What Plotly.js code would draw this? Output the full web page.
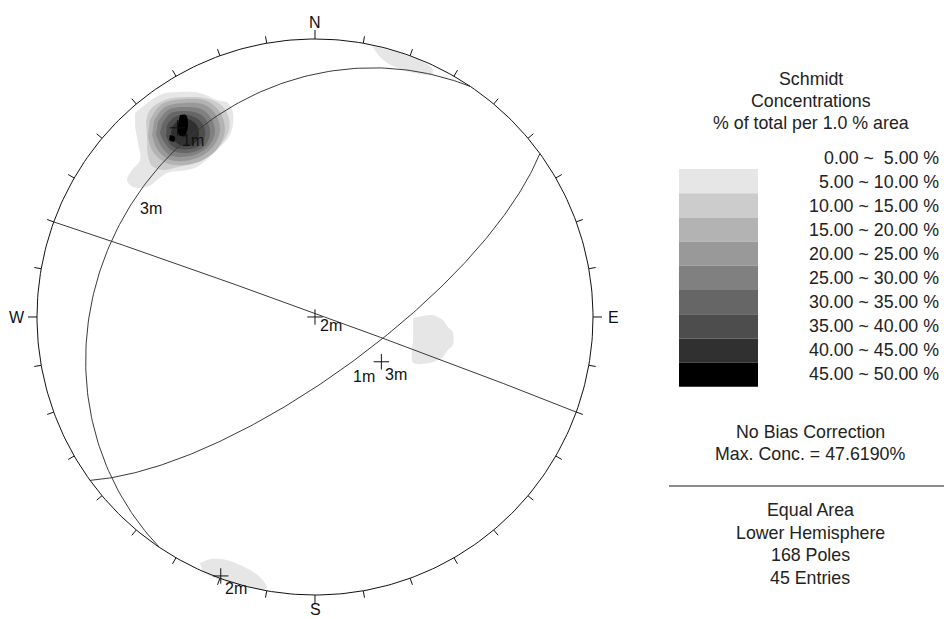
<!DOCTYPE html>
<html><head><meta charset="utf-8">
<script src="https://cdn.plot.ly/plotly-3.0.1.min.js"></script>
<style>html,body{margin:0;padding:0;background:#fff;}#chart{width:944px;height:619px;}</style>
</head><body><div id="chart"></div>
<script>
// ---- Mean set planes (dip direction / dip, degrees) ----
const setIds = ['1', '2', '3'];
const setDipDir = [144, 20, 304];
const setDip = [73, 89, 23.5];

// ---- Concentration legend ----
const levelLabels = ['0.00 ~  5.00 %', '5.00 ~ 10.00 %', '10.00 ~ 15.00 %', '15.00 ~ 20.00 %', '20.00 ~ 25.00 %',
  '25.00 ~ 30.00 %', '30.00 ~ 35.00 %', '35.00 ~ 40.00 %', '40.00 ~ 45.00 %', '45.00 ~ 50.00 %'];
const levelColors = ['#ffffff', '#e6e6e6', '#cccccc', '#b3b3b3', '#999999', '#808080', '#666666', '#4d4d4d', '#303030', '#000000'];
const headerLines = ['Schmidt', 'Concentrations', '% of total per 1.0 % area'];
const infoLines1 = ['No Bias Correction', 'Max. Conc. = 47.6190%'];
const infoLines2 = ['Equal Area', 'Lower Hemisphere', '168 Poles', '45 Entries'];
const compassLabels = ['N', 'E', 'S', 'W'];
const compassAz = [0, 90, 180, 270];

// ---- Contour outlines of the main pole cluster (net coords, level 1..9) ----
const clusterX = [
  [-0.647,-0.558,-0.496,-0.414,-0.353,-0.313,-0.295,-0.299,-0.317,-0.342,-0.378,-0.424,-0.460,-0.532,-0.568,-0.604,-0.655,-0.676,-0.658,-0.629,-0.637,-0.647],
  [-0.608,-0.594,-0.540,-0.468,-0.396,-0.342,-0.313,-0.309,-0.335,-0.378,-0.432,-0.493,-0.547,-0.586,-0.601,-0.604],
  [-0.594,-0.550,-0.468,-0.389,-0.342,-0.324,-0.349,-0.403,-0.468,-0.536,-0.583,-0.601],
  [-0.579,-0.540,-0.468,-0.396,-0.356,-0.342,-0.367,-0.414,-0.471,-0.529,-0.568,-0.586],
  [-0.565,-0.529,-0.464,-0.403,-0.371,-0.360,-0.385,-0.425,-0.475,-0.522,-0.554,-0.572],
  [-0.550,-0.518,-0.464,-0.414,-0.385,-0.378,-0.399,-0.435,-0.478,-0.518,-0.543,-0.558],
  [-0.532,-0.504,-0.460,-0.421,-0.399,-0.396,-0.417,-0.450,-0.486,-0.518,-0.536],
  [-0.514,-0.489,-0.457,-0.428,-0.417,-0.425,-0.453,-0.486,-0.511,-0.518],
  [-0.486,-0.464,-0.457,-0.460,-0.471,-0.489,-0.493,-0.489, null, -0.522,-0.504,-0.507,-0.525]
];
const clusterY = [
  [0.734,0.799,0.809,0.806,0.781,0.770,0.734,0.673,0.637,0.612,0.576,0.540,0.529,0.518,0.493,0.468,0.468,0.493,0.529,0.565,0.626,0.683],
  [0.701,0.745,0.781,0.791,0.788,0.766,0.727,0.673,0.626,0.583,0.554,0.540,0.529,0.543,0.583,0.644],
  [0.709,0.766,0.784,0.777,0.737,0.673,0.608,0.565,0.547,0.554,0.594,0.651],
  [0.705,0.755,0.770,0.763,0.727,0.669,0.612,0.576,0.561,0.568,0.604,0.655],
  [0.701,0.745,0.755,0.745,0.712,0.662,0.612,0.586,0.576,0.583,0.615,0.658],
  [0.694,0.734,0.741,0.730,0.698,0.655,0.612,0.594,0.590,0.601,0.630,0.662],
  [0.691,0.719,0.727,0.712,0.684,0.648,0.615,0.604,0.604,0.619,0.651],
  [0.684,0.709,0.712,0.694,0.666,0.633,0.615,0.619,0.640,0.662],
  [0.727,0.727,0.701,0.669,0.651,0.655,0.687,0.712, null, 0.655,0.648,0.630,0.637]
];
// ---- Small level-1 patches (net coords) ----
const patchTopX = [0.206,0.285,0.366,0.421,0.421,0.342,0.259,0.227];
const patchTopY = [0.975,0.955,0.928,0.896,0.871,0.881,0.914,0.942];
const patchEastX = [0.353,0.421,0.460,0.478,0.496,0.496,0.478,0.460,0.414,0.353,0.353];
const patchEastY = [-0.004,0.007,-0.011,-0.036,-0.054,-0.101,-0.119,-0.144,-0.165,-0.165,-0.083];
const patchSouthX = [-0.414,-0.378,-0.317,-0.270,-0.234,-0.198,-0.173,-0.187,-0.259,-0.317,-0.378,-0.406];
const patchSouthY = [-0.885,-0.871,-0.874,-0.892,-0.910,-0.935,-0.971,-0.982,-0.968,-0.953,-0.932,-0.910];

// ---- page geometry ----
const W = 944, H = 619, CX = 315, CY = 317, R = 278;
const XR = [-1.1, 1.1], YR = [-1.08, 1.1];
const D2R = Math.PI / 180;
const FONT = '"Liberation Sans", Arial, sans-serif';
const px2x = p => p / W;
const py2y = p => 1 - p / H;

function proj(trend, plunge) {
  const r = Math.SQRT2 * Math.sin((90 - plunge) / 2 * D2R);
  return [r * Math.sin(trend * D2R), r * Math.cos(trend * D2R)];
}
function greatCircle(dd, dip) {
  const s = (dd - 90) * D2R, d = dip * D2R, a = dd * D2R;
  const sv = [Math.sin(s), Math.cos(s), 0];
  const dv = [Math.cos(d) * Math.sin(a), Math.cos(d) * Math.cos(a), Math.sin(d)];
  const xs = [], ys = [];
  for (let k = 0; k <= 180; k++) {
    const f = k * D2R;
    const v = [0, 1, 2].map(i => Math.cos(f) * sv[i] + Math.sin(f) * dv[i]);
    const tr = Math.atan2(v[0], v[1]) / D2R;
    const pl = Math.asin(Math.min(1, Math.max(-1, v[2]))) / D2R;
    const p = proj(tr, pl);
    xs.push(p[0]); ys.push(p[1]);
  }
  return [xs, ys];
}

const traces = [];
// contour fills
const patches = [[patchTopX, patchTopY], [patchEastX, patchEastY], [patchSouthX, patchSouthY]];
patches.forEach(p => traces.push({
  type: 'scatter', mode: 'lines', x: p[0], y: p[1], fill: 'toself', fillcolor: levelColors[1],
  line: {width: 0, shape: 'spline', smoothing: 0.8, color: levelColors[1]}, hoverinfo: 'skip'
}));
clusterX.forEach((xs, i) => traces.push({
  type: 'scatter', mode: 'lines', x: xs, y: clusterY[i], fill: 'toself', fillcolor: levelColors[i + 1],
  line: {width: 0, shape: 'spline', smoothing: 1, color: levelColors[i + 1]}, hoverinfo: 'skip'
}));

// great circles
setIds.forEach((id, i) => {
  const g = greatCircle(setDipDir[i], setDip[i]);
  traces.push({type: 'scatter', mode: 'lines', x: g[0], y: g[1], line: {color: '#3a3a3a', width: 1}, hoverinfo: 'skip'});
});

// primitive circle
const cx = [], cy = [];
for (let a = 0; a <= 360; a++) { cx.push(Math.sin(a * D2R)); cy.push(Math.cos(a * D2R)); }
traces.push({type: 'scatter', mode: 'lines', x: cx, y: cy, line: {color: '#111', width: 1}, hoverinfo: 'skip'});

// ticks every 10 degrees
const tx = [], ty = [];
for (let a = 0; a < 360; a += 10) {
  const len = (a % 90 === 0 ? 9 : 7) / R;
  tx.push(Math.sin(a * D2R), (1 + len) * Math.sin(a * D2R), null);
  ty.push(Math.cos(a * D2R), (1 + len) * Math.cos(a * D2R), null);
}
traces.push({type: 'scatter', mode: 'lines', x: tx, y: ty, line: {color: '#111', width: 1}, hoverinfo: 'skip'});

// poles & centre markers
const poleXY = setIds.map((id, i) => proj(setDipDir[i] + 180, 90 - setDip[i]));
const dipXY = setIds.map((id, i) => proj(setDipDir[i], setDip[i]));
traces.push({type: 'scatter', mode: 'markers', x: poleXY.map(p => p[0]).concat([0]), y: poleXY.map(p => p[1]).concat([0]),
  marker: {symbol: 'cross-thin', size: 11, line: {color: '#111', width: 1}}, hoverinfo: 'skip'});

const annotations = [];
// compass labels
compassLabels.forEach((t, i) => {
  const a = compassAz[i] * D2R;
  annotations.push({x: Math.sin(a), y: Math.cos(a), xref: 'x', yref: 'y', text: t, showarrow: false,
    xshift: Math.sin(a) * 20, yshift: Math.cos(a) * (i === 2 ? 14 : 17),
    font: {family: FONT, size: 16, color: '#111'}});
});
// set labels (planes & poles)
setIds.forEach((id, i) => {
  annotations.push({x: dipXY[i][0], y: dipXY[i][1], xref: 'x', yref: 'y', text: id + 'm', showarrow: false,
    xshift: 15, yshift: -12, font: {family: FONT, size: 16, color: '#111'}});
  annotations.push({x: poleXY[i][0], y: poleXY[i][1], xref: 'x', yref: 'y', text: id + 'm', showarrow: false,
    xshift: 15, yshift: -13, font: {family: FONT, size: 16, color: '#111'}});
});
// legend text
const LF = {family: FONT, size: 17.8, color: '#222'};
headerLines.forEach((t, i) => annotations.push({x: px2x(811), y: py2y(79 + 22 * i), xref: 'paper', yref: 'paper',
  text: t, showarrow: false, font: LF, xanchor: 'center', yanchor: 'middle'}));
levelLabels.forEach((t, i) => annotations.push({x: px2x(941), y: py2y(158 + 24 * i), xref: 'paper', yref: 'paper',
  text: t.replace(/  /g, ' &nbsp;'), showarrow: false, font: LF, xanchor: 'right', yanchor: 'middle'}));
infoLines1.forEach((t, i) => annotations.push({x: px2x(810), y: py2y(432 + 22 * i), xref: 'paper', yref: 'paper',
  text: t, showarrow: false, font: LF, xanchor: 'center', yanchor: 'middle'}));
infoLines2.forEach((t, i) => annotations.push({x: px2x(810), y: py2y(510 + 22.7 * i), xref: 'paper', yref: 'paper',
  text: t, showarrow: false, font: LF, xanchor: 'center', yanchor: 'middle'}));

// legend swatches
const shapes = [];
for (let i = 1; i < levelColors.length; i++) {
  const y0 = 169 + 24.2 * (i - 1);
  shapes.push({type: 'rect', xref: 'paper', yref: 'paper', x0: px2x(679), x1: px2x(758), y0: py2y(y0), y1: py2y(y0 + 24.2),
    fillcolor: levelColors[i], line: {width: 0}, layer: 'above'});
}
shapes.push({type: 'line', xref: 'paper', yref: 'paper', x0: px2x(669), x1: px2x(944), y0: py2y(486), y1: py2y(486),
  line: {color: '#666', width: 1.5}});

const layout = {
  width: W, height: H, margin: {l: 0, r: 0, t: 0, b: 0}, paper_bgcolor: '#fff', plot_bgcolor: 'rgba(0,0,0,0)',
  showlegend: false, hovermode: false,
  xaxis: {range: XR, domain: [(CX + XR[0] * R) / W, (CX + XR[1] * R) / W], visible: false, fixedrange: true},
  yaxis: {range: YR, domain: [1 - (CY - YR[0] * R) / H, 1 - (CY - YR[1] * R) / H], visible: false, fixedrange: true},
  annotations: annotations, shapes: shapes
};
Plotly.newPlot('chart', traces, layout, {staticPlot: true, displayModeBar: false});
</script></body></html>
